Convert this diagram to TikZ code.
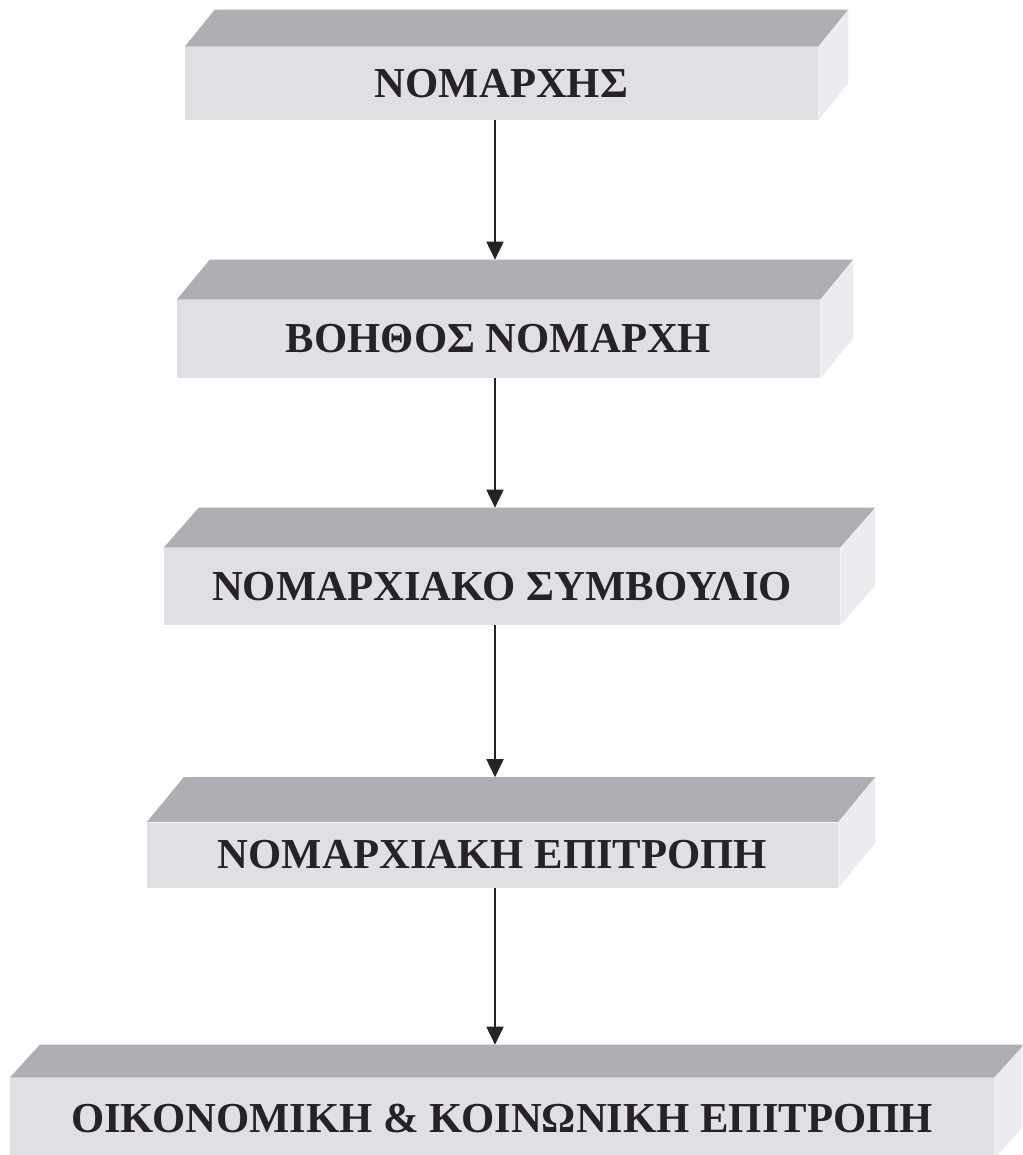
\documentclass[tikz,border=0pt]{standalone}
\usepackage{fontspec}
\setmainfont{Liberation Serif}
\usetikzlibrary{arrows.meta,calc}
\definecolor{topgray}{RGB}{174,174,180}
\definecolor{frontgray}{RGB}{223,223,228}
\definecolor{sidegray}{RGB}{236,236,240}
\definecolor{inkgray}{RGB}{38,34,38}
\tikzset{
  slab/.style={fill=frontgray,inner sep=0pt,text=inkgray,font=\bfseries\fontsize{24.3pt}{29pt}\selectfont},
  link/.style={line width=1.1pt,inkgray,-{Triangle[length=3.6mm,width=3.4mm]}},
}
\begin{document}
\begin{tikzpicture}[x=0.02cm,y=-0.02cm]
\useasboundingbox (0,0) rectangle (1022,1155);
\clip (0,0) rectangle (1022,1155);
% front faces
\node[slab,minimum width=12.66cm,minimum height=1.46cm] (nomarchis) at (501.5,83.5) {ΝΟΜΑΡΧΗΣ};
\node[slab,minimum width=12.86cm,minimum height=1.56cm] (voithos) at (498.5,339) {ΒΟΗΘΟΣ ΝΟΜΑΡΧΗ};
\node[slab,minimum width=13.52cm,minimum height=1.54cm] (symvoulio) at (502,586.5) {ΝΟΜΑΡΧΙΑΚΟ ΣΥΜΒΟΥΛΙΟ};
\node[slab,minimum width=13.82cm,minimum height=1.30cm] (epitropi) at (492.5,855) {ΝΟΜΑΡΧΙΑΚΗ ΕΠΙΤΡΟΠΗ};
\node[slab,minimum width=19.68cm,minimum height=1.60cm] (oikepitropi) at (502,1118) {ΟΙΚΟΝΟΜΙΚΗ \& ΚΟΙΝΩΝΙΚΗ ΕΠΙΤΡΟΠΗ};
% top and side faces
\foreach \n/\dx/\dy in {nomarchis/30/37,voithos/33/40,symvoulio/35/40,epitropi/37/45,oikepitropi/30/33} {
  \fill[topgray] (\n.north west) -- ++(\dx,-\dy) -- ($(\n.north east)+(\dx,-\dy)$) -- (\n.north east) -- cycle;
  \fill[sidegray] (\n.north east) -- ++(\dx,-\dy) -- ($(\n.south east)+(\dx,-\dy)$) -- (\n.south east) -- cycle;
  \coordinate (\n-back) at ($(\n.north)+(0,-\dy)$);
}
\coordinate (spine) at (495,0);
\draw[link] (spine |- nomarchis.south) -- (spine |- voithos-back);
\draw[link] (spine |- voithos.south) -- (spine |- symvoulio-back);
\draw[link] (spine |- symvoulio.south) -- (spine |- epitropi-back);
\draw[link] (spine |- epitropi.south) -- (spine |- oikepitropi-back);
\end{tikzpicture}
\end{document}
